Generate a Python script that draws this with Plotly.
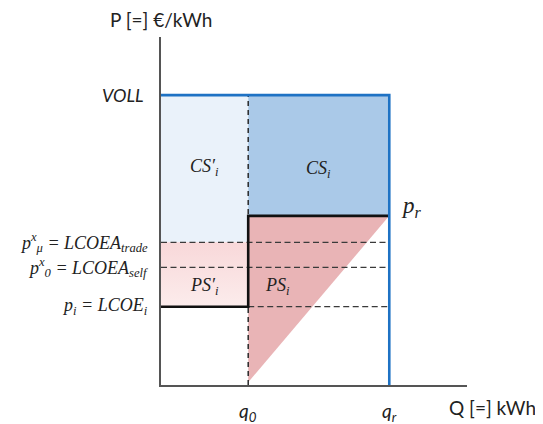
import plotly.graph_objects as go

# Quantities (arbitrary units, Q axis 0..10)
q_names = ["q0", "qr"]
q_values = [2.85, 7.46]
# Prices (arbitrary units, P axis 0..10)
price_names = ["VOLL", "pr", "pmu", "p0", "pi", "supply_min"]
price_values = [8.33, 4.86, 4.10, 3.38, 2.25, 0.08]

q0, qr = q_values
VOLL, pr, pmu, p0, pi, smin = price_values

fig = go.Figure()

def poly(xs, ys, color, gradient=None):
    kw = dict(fillcolor=color)
    if gradient:
        kw = dict(fillgradient=dict(type="vertical", colorscale=gradient))
    fig.add_trace(go.Scatter(x=xs, y=ys, mode="lines", fill="toself", line=dict(width=0),
                             hoverinfo="skip", showlegend=False, **kw))

def line(xs, ys, color, width, dash="solid"):
    fig.add_trace(go.Scatter(x=xs, y=ys, mode="lines", line=dict(color=color, width=width, dash=dash),
                             hoverinfo="skip", showlegend=False))

# Regions
poly([0, q0, q0, 0, 0], [pmu, pmu, VOLL, VOLL, pmu], "rgb(234,242,250)")      # CS'_i
poly([0, q0, q0, 0, 0], [pi, pi, pmu, pmu, pi], "rgb(249,222,223)",
     gradient=[[0, "rgb(252,236,236)"], [1, "rgb(248,216,217)"]])            # PS'_i
poly([q0, qr, qr, q0, q0], [pr, pr, VOLL, VOLL, pr], "rgb(170,201,232)")     # CS_i
poly([q0, qr, q0, q0], [pr, pr, smin, pr], "rgb(233,180,182)")               # PS_i

# Dashed price lines
dash_h = "6px,3.5px"
line([0, qr], [pmu, pmu], "#3a3a3a", 1.3, dash_h)
line([0, qr], [p0, p0], "#3a3a3a", 1.3, dash_h)
line([q0, qr], [pi, pi], "#3a3a3a", 1.3, dash_h)
# Dashed q0 vertical
line([q0, q0], [0, VOLL], "#2a2a2a", 1.5, "5px,4px")

# Black step
line([0, q0, q0, qr], [pi, pi, pr, pr], "#111111", 2.6)
# Blue outline
line([0, qr, qr], [VOLL, VOLL, 0], "rgb(30,114,196)", 2.6)

fig.update_xaxes(range=[0, 10], showgrid=False, zeroline=False, showticklabels=False, ticks="",
                 showline=True, linecolor="#555555", linewidth=1.5, fixedrange=True)
fig.update_yaxes(range=[0, 10], showgrid=False, zeroline=False, showticklabels=False, ticks="",
                 showline=True, linecolor="#555555", linewidth=1.5, fixedrange=True)

serif = "Liberation Serif"
sans = "Lato"
anns = []
# Axis titles
anns.append(dict(text="P [=] €/kWh", xref="paper", yref="paper", x=0, y=1, xanchor="right", yanchor="bottom",
                 xshift=53, yshift=4, font=dict(family=sans, size=19, color="#222")))
anns.append(dict(text="Q [=] kWh", xref="paper", yref="paper", x=1, y=0, xanchor="left", yanchor="middle",
                 xshift=-20, yshift=-22, font=dict(family=sans, size=19, color="#222")))
# Left price labels
anns.append(dict(text="<i>VOLL</i>", x=0, y=VOLL, xanchor="right", yanchor="middle", xshift=-15,
                 font=dict(family=sans, size=18, color="#222")))
anns.append(dict(text="<i>p<sup>x</sup><sub>μ</sub> = LCOEA<sub>trade</sub></i>", x=0, y=pmu, xanchor="right",
                 yanchor="middle", xshift=-11, font=dict(family=serif, size=18, color="#222")))
anns.append(dict(text="<i>p<sup>x</sup><sub>0</sub> = LCOEA<sub>self</sub></i>", x=0, y=p0, xanchor="right",
                 yanchor="middle", xshift=-11, font=dict(family=serif, size=18, color="#222")))
anns.append(dict(text="<i>p<sub>i</sub> = LCOE<sub>i</sub></i>", x=0, y=pi, xanchor="right",
                 yanchor="middle", xshift=-11, font=dict(family=serif, size=18, color="#222")))
anns.append(dict(text="<i>p<sub>r</sub></i>", x=qr, y=pr, xanchor="left", yanchor="middle", xshift=10, yshift=9,
                 font=dict(family=serif, size=23, color="#222")))
# Quantity labels
anns.append(dict(text="<i>q<sub>0</sub></i>", x=q0, y=0, xanchor="center", yanchor="top", yshift=-12,
                 font=dict(family=sans, size=19, color="#222")))
anns.append(dict(text="<i>q<sub>r</sub></i>", x=qr, y=0, xanchor="center", yanchor="top", yshift=-12,
                 font=dict(family=sans, size=19, color="#222")))
# Surplus labels
anns.append(dict(text="<i>CS′<sub>i</sub></i>", x=q0 / 2, y=6.26, showarrow=False,
                 font=dict(family=serif, size=18, color="#222")))
anns.append(dict(text="<i>CS<sub>i</sub></i>", x=(q0 + qr) / 2, y=6.2, showarrow=False,
                 font=dict(family=serif, size=18, color="#222")))
anns.append(dict(text="<i>PS′<sub>i</sub></i>", x=q0 / 2, y=2.82, showarrow=False,
                 font=dict(family=serif, size=18, color="#222")))
anns.append(dict(text="<i>PS<sub>i</sub></i>", x=3.8, y=2.82, showarrow=False,
                 font=dict(family=serif, size=18, color="#222")))
for a in anns:
    a.setdefault("showarrow", False)
    a.setdefault("xref", "x")
    a.setdefault("yref", "y")

# The page body has an 8px margin, so the figure is shrunk by 8px to fit the 543x424 window.
fig.update_layout(width=535, height=416, margin=dict(l=153, r=76, t=29, b=39),
                  plot_bgcolor="white", paper_bgcolor="white", annotations=anns, showlegend=False)

fig.write_html("out.html", config={"displayModeBar": False})
